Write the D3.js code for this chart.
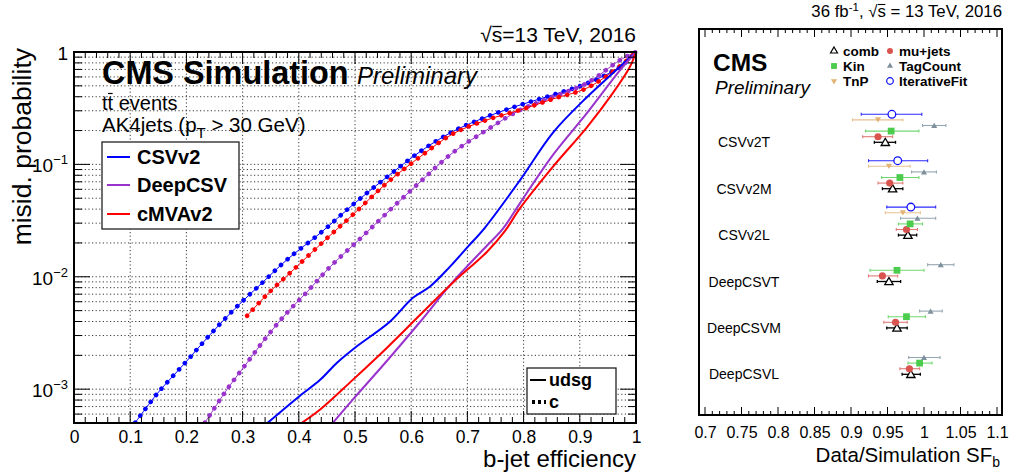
<!DOCTYPE html>
<html><head><meta charset="utf-8">
<script src="https://cdn.jsdelivr.net/npm/d3@7"></script>
<style>
body{margin:0;background:#fff;}
svg text{font-family:"Liberation Sans",Arial,Helvetica,sans-serif;fill:#000;}
</style></head><body>
<svg id="c" width="1011" height="475"></svg>
<script>
// ---------------- DATA (left panel: ROC curves) ----------------
const xTickValuesLeft = [0,0.1,0.2,0.3,0.4,0.5,0.6,0.7,0.8,0.9,1];
const xTickLabelsLeft = ["0","0.1","0.2","0.3","0.4","0.5","0.6","0.7","0.8","0.9","1"];
const yDecadeValues = [1e-3,1e-2,1e-1,1];
const yDecadeLabels = [["10","\u22123"],["10","\u22122"],["10","\u22121"],["1",""]];
const taggerNames = ["CSVv2","DeepCSV","cMVAv2"];
const taggerColors = ["#0000ff","#9933cc","#ff0000"];
// [b-jet efficiency, mis-id probability]; udsg = solid
const csvUdsg = [[0.345,5.04e-4],[0.400,8.57e-4],[0.438,1.21e-3],[0.468,1.72e-3],[0.500,2.34e-3],[0.562,3.98e-3],[0.603,6.50e-3],[0.633,8.15e-3],[0.669,0.0123],[0.699,0.0181],[0.731,0.0273],[0.794,0.0728],[0.852,0.191],[0.913,0.398],[0.959,0.650],[1,1]];
const deepUdsg = [[0.461,5.04e-4],[0.496,8.07e-4],[0.557,1.79e-3],[0.616,3.98e-3],[0.674,9.0e-3],[0.735,0.0190],[0.763,0.0267],[0.794,0.0455],[0.852,0.121],[0.913,0.287],[0.972,0.692],[1,1]];
const cmvaUdsg = [[0.406,5.04e-4],[0.438,6.58e-4],[0.496,1.21e-3],[0.557,2.34e-3],[0.616,4.59e-3],[0.674,8.85e-3],[0.735,0.0167],[0.767,0.0256],[0.794,0.0410],[0.852,0.0951],[0.913,0.215],[0.959,0.433],[0.989,0.736],[1,1]];
// c-jet mis-id (dotted)
const csvC = [[0.109,5.04e-4],[0.148,9.12e-4],[0.198,1.72e-3],[0.242,3.05e-3],[0.286,5.19e-3],[0.335,8.85e-3],[0.379,0.0142],[0.441,0.0251],[0.496,0.0437],[0.557,0.0774],[0.616,0.130],[0.674,0.196],[0.735,0.266],[0.794,0.338],[0.852,0.415],[0.913,0.527],[0.972,0.740],[1,1]];
const deepC = [[0.233,5.04e-4],[0.272,9.9e-4],[0.308,1.72e-3],[0.343,2.93e-3],[0.379,4.79e-3],[0.415,7.36e-3],[0.456,0.0123],[0.509,0.0218],[0.557,0.0371],[0.616,0.0699],[0.674,0.127],[0.735,0.203],[0.794,0.305],[0.852,0.398],[0.913,0.530],[0.972,0.849],[1,1]];
const cmvaC = [[0.308,4.50e-3],[0.343,6.92e-3],[0.390,0.0115],[0.447,0.0213],[0.496,0.0356],[0.557,0.0685],[0.616,0.117],[0.674,0.187],[0.735,0.249],[0.794,0.305],[0.852,0.382],[0.913,0.479],[0.972,0.751],[1,1]];

// ---------------- DATA (right panel: scale factors) ----------------
const sfGroups = ["CSVv2T","CSVv2M","CSVv2L","DeepCSVT","DeepCSVM","DeepCSVL"];
const sfMethods = ["comb","mu+jets","Kin","TagCount","TnP","IterativeFit"];
const sfTickValues = [0.7,0.75,0.8,0.85,0.9,0.95,1,1.05,1.1];
const sfTickLabels = ["0.7","0.75","0.8","0.85","0.9","0.95","1","1.05","1.1"];
// [central, low edge, high edge] per group
const sfComb = [[0.947,0.932,0.961],[0.957,0.943,0.971],[0.978,0.965,0.990],[0.952,0.936,0.968],[0.963,0.949,0.977],[0.982,0.970,0.995]];
const sfMuJets = [[0.937,0.916,0.957],[0.953,0.937,0.971],[0.976,0.962,0.991],[0.943,0.924,0.964],[0.961,0.945,0.977],[0.980,0.967,0.994]];
const sfKin = [[0.955,0.920,0.993],[0.967,0.942,0.993],[0.981,0.965,0.998],[0.963,0.926,1.000],[0.976,0.951,1.002],[0.994,0.978,1.011]];
const sfTagCount = [[1.014,0.998,1.030],[1.000,0.983,1.017],[0.991,0.968,1.016],[1.023,1.005,1.041],[1.009,0.994,1.025],[1.000,0.979,1.022]];
const sfTnP = [[0.937,0.902,0.971],[0.952,0.924,0.981],[0.971,0.947,0.995],null,null,null];
const sfIterFit = [[0.956,0.914,0.997],[0.964,0.924,1.005],[0.982,0.949,1.016],null,null,null];

// ---------------- DRAW ----------------
const svg = d3.select("#c");
const FF = '"Liberation Sans",Arial,Helvetica,sans-serif';

// helper: draw overline over character idx of a text node
function overline(textSel, idx, dyTop, w){
  const n = textSel.node();
  const p0 = n.getStartPositionOfChar(idx), p1 = n.getEndPositionOfChar(idx);
  svg.append("line").attr("x1",p0.x+0.5).attr("x2",p1.x-0.5).attr("y1",p0.y-dyTop).attr("y2",p0.y-dyTop)
    .attr("stroke","#000").attr("stroke-width",w||1.2);
}

// ===== Left panel =====
const L = {x0:74, x1:636, y0:52, y1:423};
const x = d3.scaleLinear().domain([0,1]).range([L.x0,L.x1]);
const y = d3.scaleLog().domain([5e-4,1]).range([L.y1,L.y0]);
const gL = svg.append("g");

// grid
const yMinor = [];
[1e-4,1e-3,1e-2,1e-1].forEach(d=>{for(let k=2;k<=9;k++){const v=k*d; if(v>=5e-4 && v<1) yMinor.push(v);}});
const gridY = yMinor.concat([1e-3,1e-2,1e-1]).filter(v=>v>5e-4);
gL.selectAll(".gy").data(gridY).enter().append("line")
  .attr("x1",L.x0).attr("x2",L.x1).attr("y1",d=>y(d)).attr("y2",d=>y(d))
  .attr("stroke","#222").attr("stroke-width",0.9).attr("stroke-dasharray","1.2,2.4");
gL.selectAll(".gx").data(xTickValuesLeft.slice(1,-1)).enter().append("line")
  .attr("x1",d=>x(d)).attr("x2",d=>x(d)).attr("y1",L.y0).attr("y2",L.y1)
  .attr("stroke","#222").attr("stroke-width",0.9).attr("stroke-dasharray","1.2,2.4");

// curves
const line = d3.line().x(d=>x(d[0])).y(d=>y(d[1])).curve(d3.curveCatmullRom.alpha(0.5));
svg.append("clipPath").attr("id","clipL").append("rect")
  .attr("x",L.x0).attr("y",L.y0-4).attr("width",L.x1-L.x0+4).attr("height",L.y1-L.y0+4);
const gc = gL.append("g").attr("clip-path","url(#clipL)");
const solids = [csvUdsg,deepUdsg,cmvaUdsg];
const dots = [csvC,deepC,cmvaC];
dots.forEach((s,i)=>{
  gc.append("path").attr("d",line(s)).attr("fill","none").attr("stroke",taggerColors[i]).attr("stroke-width",1);
  gc.append("path").attr("d",line(s)).attr("fill","none").attr("stroke",taggerColors[i])
    .attr("stroke-width",4.6).attr("stroke-linecap","round").attr("stroke-dasharray","0.01,8.6");
});
solids.forEach((s,i)=>{
  gc.append("path").attr("d",line(s)).attr("fill","none").attr("stroke",taggerColors[i]).attr("stroke-width",2);
});

// ticks
d3.range(0,1.0001,0.02).forEach(v=>{
  const major = Math.abs(v*10-Math.round(v*10))<1e-6;
  const len = major?12:6;
  gL.append("line").attr("x1",x(v)).attr("x2",x(v)).attr("y1",L.y1).attr("y2",L.y1-len).attr("stroke","#000").attr("stroke-width",1);
  gL.append("line").attr("x1",x(v)).attr("x2",x(v)).attr("y1",L.y0).attr("y2",L.y0+len).attr("stroke","#000").attr("stroke-width",1);
});
yMinor.concat(yDecadeValues).forEach(v=>{
  const major = yDecadeValues.includes(v);
  const len = major?16:8;
  gL.append("line").attr("x1",L.x0).attr("x2",L.x0+len).attr("y1",y(v)).attr("y2",y(v)).attr("stroke","#000").attr("stroke-width",1);
  gL.append("line").attr("x1",L.x1).attr("x2",L.x1-len).attr("y1",y(v)).attr("y2",y(v)).attr("stroke","#000").attr("stroke-width",1);
});
// frame
gL.append("rect").attr("x",L.x0).attr("y",L.y0).attr("width",L.x1-L.x0).attr("height",L.y1-L.y0)
  .attr("fill","none").attr("stroke","#000").attr("stroke-width",2);

// x tick labels via axis
const axB = d3.axisBottom(x).tickValues(xTickValuesLeft).tickFormat((d,i)=>xTickLabelsLeft[i]).tickSize(0).tickPadding(0);
const gAx = gL.append("g").attr("transform",`translate(0,${L.y1})`).call(axB);
gAx.select(".domain").remove();
gAx.selectAll("text").attr("font-size",17.5).attr("font-family",FF).attr("dy",null).attr("y",20);

// y tick labels
yDecadeValues.forEach((v,i)=>{
  const t = gL.append("text").attr("x",68).attr("y",y(v)+8).attr("text-anchor","end").attr("font-size",19);
  t.append("tspan").text(yDecadeLabels[i][0]);
  if(yDecadeLabels[i][1]) t.append("tspan").attr("font-size",13).attr("dy",-8).text(yDecadeLabels[i][1]);
});

// axis titles
gL.append("text").attr("transform","translate(31,48) rotate(-90)").attr("text-anchor","end")
  .attr("font-size",26.5).text("misid. probability");
gL.append("text").attr("x",636).attr("y",467).attr("text-anchor","end").attr("font-size",24).text("b-jet efficiency");

// header texts
const ts = gL.append("text").attr("x",636).attr("y",42).attr("text-anchor","end").attr("font-size",21)
  .text("\u221As=13 TeV, 2016");
overline(ts,1,15.5,1.3);

gL.append("text").attr("x",102).attr("y",84).attr("font-size",32.4).attr("font-weight","bold").text("CMS Simulation");
gL.append("text").attr("x",357).attr("y",84).attr("font-size",24).attr("font-style","italic").text("Preliminary");
const tt = gL.append("text").attr("x",102).attr("y",109.5).attr("font-size",20).text("tt events");
overline(tt,1,16,1.2);
const ak = gL.append("text").attr("x",102).attr("y",132).attr("font-size",20.5);
ak.append("tspan").text("AK4jets (p");
ak.append("tspan").attr("font-size",15).attr("dy",6).text("T");
ak.append("tspan").attr("dy",-6).text(" > 30 GeV)");

// legend taggers
gL.append("rect").attr("x",102).attr("y",142).attr("width",137).attr("height",87)
  .attr("fill","#fff").attr("stroke","#222").attr("stroke-width",1.3);
const legY = [157,185,214];
taggerNames.forEach((n,i)=>{
  gL.append("line").attr("x1",107).attr("x2",130).attr("y1",legY[i]).attr("y2",legY[i]).attr("stroke",taggerColors[i]).attr("stroke-width",2);
  gL.append("text").attr("x",137).attr("y",legY[i]+7).attr("font-size",20).attr("font-weight","bold").text(n);
});
// legend flavours
gL.append("rect").attr("x",527).attr("y",368).attr("width",89).attr("height",46)
  .attr("fill","#fff").attr("stroke","#222").attr("stroke-width",1.3);
gL.append("line").attr("x1",530).attr("x2",546).attr("y1",380).attr("y2",380).attr("stroke","#000").attr("stroke-width",2);
gL.append("line").attr("x1",532).attr("x2",546).attr("y1",402).attr("y2",402).attr("stroke","#000").attr("stroke-width",4)
  .attr("stroke-dasharray","3,3");
gL.append("text").attr("x",549).attr("y",386).attr("font-size",18).attr("font-weight","bold").text("udsg");
gL.append("text").attr("x",549).attr("y",408).attr("font-size",18).attr("font-weight","bold").text("c");

// ===== Right panel =====
const R = {fx0:699, fx1:1002, fy0:29, fy1:415};
const xr = d3.scaleLinear().domain([0.7,1.1]).range([705,997]);
const yr = d3.scalePoint().domain(sfGroups).range([142.3,374.3]);
const rowStep = 5.6;
const gR = svg.append("g");
gR.append("rect").attr("x",R.fx0).attr("y",R.fy0).attr("width",R.fx1-R.fx0).attr("height",R.fy1-R.fy0)
  .attr("fill","none").attr("stroke","#000").attr("stroke-width",2);
d3.range(0.70,1.1001,0.01).forEach(v=>{
  const major = Math.abs(v*20-Math.round(v*20))<1e-6;
  const len = major?8:4;
  gR.append("line").attr("x1",xr(v)).attr("x2",xr(v)).attr("y1",R.fy1).attr("y2",R.fy1-len).attr("stroke","#000").attr("stroke-width",1);
  gR.append("line").attr("x1",xr(v)).attr("x2",xr(v)).attr("y1",R.fy0).attr("y2",R.fy0+len).attr("stroke","#000").attr("stroke-width",1);
});
const axR = d3.axisBottom(xr).tickValues(sfTickValues).tickFormat((d,i)=>sfTickLabels[i]).tickSize(0).tickPadding(0);
const gAxR = gR.append("g").attr("transform",`translate(0,${R.fy1})`).call(axR);
gAxR.select(".domain").remove();
gAxR.selectAll("text").attr("font-size",16).attr("font-family",FF).attr("dy",null).attr("y",23);
const tr = gR.append("text").attr("x",1000).attr("y",462).attr("text-anchor","end").attr("font-size",20.5);
tr.append("tspan").text("Data/Simulation SF");
tr.append("tspan").attr("font-size",14).attr("dy",5).text("b");

const th = gR.append("text").attr("x",1002).attr("y",17).attr("text-anchor","end").attr("font-size",16.8);
th.append("tspan").text("36 fb");
th.append("tspan").attr("font-size",11.5).attr("dy",-6).text("-1");
th.append("tspan").attr("dy",6).text(", \u221As = 13 TeV, 2016");
overline(th,10,12.5,1.1);

gR.append("text").attr("x",713).attr("y",71).attr("font-size",24.5).attr("font-weight","bold").text("CMS");
gR.append("text").attr("x",715).attr("y",93.5).attr("font-size",19).attr("font-style","italic").text("Preliminary");

// group labels
sfGroups.forEach(g=>{
  gR.append("text").attr("x",744).attr("y",yr(g)+5).attr("text-anchor","middle").attr("font-size",14).text(g);
});

const styles = {
  "comb":        {data:sfComb,     sym:d3.symbolTriangle, size:30, rot:0,   fill:"#fff",    stroke:"#000",    err:"#000"},
  "mu+jets":     {data:sfMuJets,   sym:d3.symbolCircle,   size:40, rot:0,   fill:"#d9534f", stroke:"none",    err:"#e07a78"},
  "Kin":         {data:sfKin,      sym:d3.symbolSquare,   size:46, rot:0,   fill:"#4ccc4c", stroke:"none",    err:"#70d870"},
  "TagCount":    {data:sfTagCount, sym:d3.symbolTriangle, size:16, rot:0,   fill:"#7d909c", stroke:"none",    err:"#93a5b0"},
  "TnP":         {data:sfTnP,      sym:d3.symbolTriangle, size:16, rot:180, fill:"#e3b274", stroke:"none",    err:"#e8c090"},
  "IterativeFit":{data:sfIterFit,  sym:d3.symbolCircle,   size:46, rot:0,   fill:"#fff",    stroke:"#1010ff", err:"#2a2aff"}
};
sfMethods.forEach((m,k)=>{
  const st = styles[m];
  sfGroups.forEach((g,i)=>{
    const d = st.data[i];
    if(!d) return;
    const yy = yr(g) - k*rowStep;
    const sw = (m==="comb")?1.3:1.1;
    gR.append("line").attr("x1",xr(d[1])).attr("x2",xr(d[2])).attr("y1",yy).attr("y2",yy).attr("stroke",st.err).attr("stroke-width",sw);
    [d[1],d[2]].forEach(e=>gR.append("line").attr("x1",xr(e)).attr("x2",xr(e)).attr("y1",yy-1.5).attr("y2",yy+1.5).attr("stroke",st.err).attr("stroke-width",sw));
    gR.append("path").attr("d",d3.symbol().type(st.sym).size(st.size)())
      .attr("transform",`translate(${xr(d[0])},${yy+(st.sym===d3.symbolTriangle?(st.rot?-0.8:0.8):0)}) rotate(${st.rot})`)
      .attr("fill",st.fill).attr("stroke",st.stroke).attr("stroke-width",1.3);
  });
});

// right legend
const legCols = [834,890];
const legRows = [51,66,81];
const legOrder = [["comb",0,0],["mu+jets",1,0],["Kin",0,1],["TagCount",1,1],["TnP",0,2],["IterativeFit",1,2]];
legOrder.forEach(([m,c,r])=>{
  const st = styles[m];
  const sc = (m==="Kin")?0.75:(m==="IterativeFit"?0.75:(m==="mu+jets"?0.7:(m==="comb"?0.7:1)));
  gR.append("path").attr("d",d3.symbol().type(st.sym).size(st.size*sc)())
    .attr("transform",`translate(${legCols[c]},${legRows[r]}) rotate(${st.rot})`)
    .attr("fill",st.fill).attr("stroke",st.stroke).attr("stroke-width",1.2);
  gR.append("text").attr("x",legCols[c]+9).attr("y",legRows[r]+5).attr("font-size",13.5).attr("font-weight","bold").text(m);
});
</script>
</body></html>
